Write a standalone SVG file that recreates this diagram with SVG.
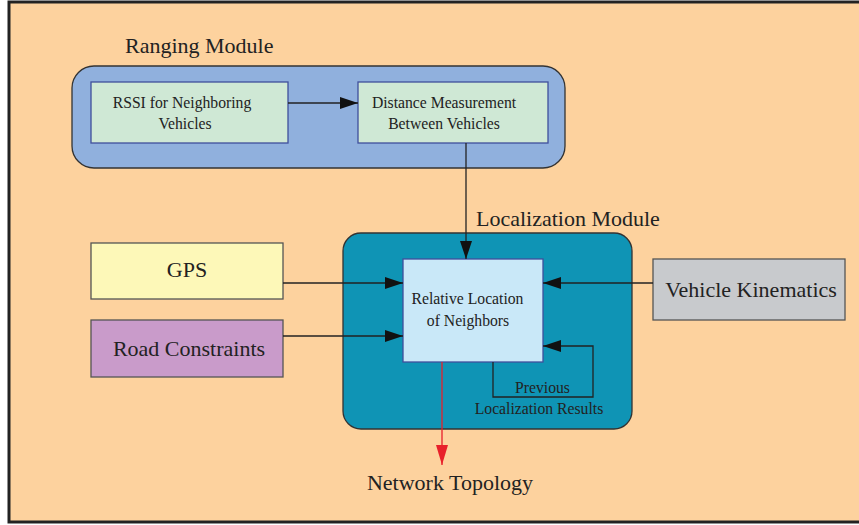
<svg xmlns="http://www.w3.org/2000/svg" width="859" height="525" viewBox="0 0 859 525">
<defs>
<style>
text{font-family:'Liberation Serif','DejaVu Serif','Times New Roman',serif;fill:#222;}
.c{stroke:#222;stroke-width:1.3;fill:none;}
.box{stroke:#555;stroke-width:1.3;}
.inner{stroke:#3f4f9c;stroke-width:1.3;}
.s{font-size:15.7px;text-anchor:middle;}
.l{font-size:22px;}
</style>
<marker id="ah" viewBox="0 0 18 12" refX="18" refY="6" markerWidth="18" markerHeight="12" markerUnits="userSpaceOnUse" orient="auto"><path d="M0,0 L18,6 L0,12 Z" fill="#111"/></marker>
<marker id="ahr" viewBox="0 0 12 20" refX="6" refY="20" markerWidth="12" markerHeight="20" markerUnits="userSpaceOnUse" orient="0"><path d="M0,0 L12,0 L6,20 Z" fill="#e8202a"/></marker>
</defs>
<rect x="0" y="0" width="859" height="525" fill="#ffffff"/>
<rect x="9" y="2" width="852" height="520" fill="#fdd29e" stroke="#222" stroke-width="3"/>
<g font-family="Liberation Serif, DejaVu Serif, serif">
<g id="ranging-module">
<rect x="72" y="66" width="493" height="102" rx="22" fill="#90b0dd" stroke="#333" stroke-width="1.3"/>
<text class="l" x="125" y="53">Ranging Module</text>
</g>
<g id="rssi">
<rect class="inner" x="91" y="82" width="197" height="61" fill="#cfe8d5"/>
<text class="s" x="182" y="108">RSSI for Neighboring</text>
<text class="s" x="185" y="129">Vehicles</text>
</g>
<g id="distance">
<rect class="inner" x="358" y="82" width="190" height="61" fill="#cfe8d5"/>
<text class="s" x="444" y="108">Distance Measurement</text>
<text class="s" x="444" y="129">Between Vehicles</text>
</g>
<g id="localization-module">
<rect x="343" y="233" width="289" height="196" rx="18" fill="#0f94b5" stroke="#333" stroke-width="1.3"/>
<text class="l" x="476" y="226">Localization Module</text>
</g>
<g id="relative">
<rect class="inner" x="403" y="259" width="140" height="103" fill="#c9e8f8"/>
<text class="s" x="467.5" y="304">Relative Location</text>
<text class="s" x="468" y="326">of Neighbors</text>
</g>
<g id="gps">
<rect class="box" x="91" y="243" width="192" height="56" fill="#fdf8b8"/>
<text class="l" x="187" y="277" text-anchor="middle">GPS</text>
</g>
<g id="road">
<rect class="box" x="91" y="320" width="192" height="57" fill="#c99bca"/>
<text class="l" x="189" y="356" text-anchor="middle">Road Constraints</text>
</g>
<g id="kinematics">
<rect class="box" x="653" y="259" width="192" height="61" fill="#c8cacd"/>
<text class="l" x="751" y="297" text-anchor="middle">Vehicle Kinematics</text>
</g>
<g id="network-topology">
<text class="l" x="450" y="490" text-anchor="middle">Network Topology</text>
</g>
<g id="connectors">
<line class="c" x1="288" y1="103" x2="358" y2="103" marker-end="url(#ah)"/>
<line class="c" x1="466" y1="143" x2="466" y2="259" marker-end="url(#ah)"/>
<line class="c" x1="283" y1="283" x2="403" y2="283" marker-end="url(#ah)"/>
<line class="c" x1="283" y1="336" x2="403" y2="336" marker-end="url(#ah)"/>
<line class="c" x1="653" y1="283" x2="543" y2="283" marker-end="url(#ah)"/>
<polyline class="c" points="493,362 493,397 593,397 593,346 543,346" marker-end="url(#ah)"/>
<line x1="442" y1="362" x2="442" y2="465" stroke="#e8202a" stroke-width="1.3" marker-end="url(#ahr)"/>
<text class="s" x="542.5" y="393">Previous</text>
<text class="s" x="539" y="414">Localization Results</text>
</g>
</g>
</svg>
